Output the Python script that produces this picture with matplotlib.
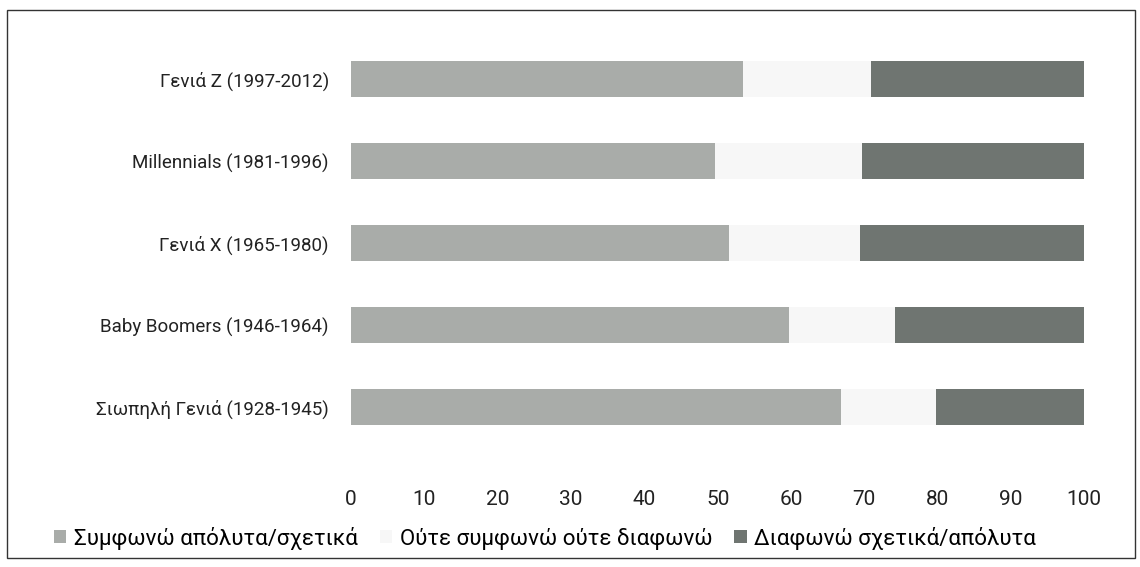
import matplotlib
matplotlib.use('Agg')
import matplotlib.pyplot as plt
from matplotlib.patches import Rectangle

# categories (top to bottom)
generations = ['Γενιά Z (1997-2012)', 'Millennials (1981-1996)', 'Γενιά X (1965-1980)',
               'Baby Boomers (1946-1964)', 'Σιωπηλή Γενιά (1928-1945)']
agree = [53.5, 49.7, 51.6, 59.8, 66.8]
neutral = [17.4, 20.0, 17.8, 14.4, 13.0]
disagree = [29.1, 30.3, 30.6, 25.8, 20.2]

series_names = ['Συμφωνώ απόλυτα/σχετικά', 'Ούτε συμφωνώ ούτε διαφωνώ', 'Διαφωνώ σχετικά/απόλυτα']
colors = ['#a9aca9', '#f7f7f7', '#6f7571']

plt.rcParams['font.family'] = ['Roboto', 'DejaVu Sans']

fig = plt.figure(figsize=(11.4, 5.67), dpi=100)
ax = fig.add_axes([0.308, 0.21, 0.643, 0.723])

ypos = list(range(len(generations)))[::-1]
left = [0] * len(generations)
for vals, name, col in zip([agree, neutral, disagree], series_names, colors):
    ax.barh(ypos, vals, left=left, height=0.43, color=col, label=name)
    left = [l + v for l, v in zip(left, vals)]

ax.set_xlim(0, 100)
ax.set_ylim(-0.5, 4.5)
ax.set_xticks(range(0, 101, 10))
ax.set_yticks(ypos)
ax.set_yticklabels(generations, fontsize=13.5)
ax.tick_params(axis='both', length=0, colors='#222222')
ax.tick_params(axis='x', pad=30, labelsize=15)
ax.tick_params(axis='y', pad=16)
for s in ax.spines.values():
    s.set_visible(False)

ax.legend(loc='center', bbox_to_anchor=(0.478, 0.051), bbox_transform=fig.transFigure,
          ncol=3, frameon=False, fontsize=16, handlelength=0.55, handleheight=0.55,
          handletextpad=0.35, columnspacing=1.0)

# frame round the figure
fig.patches.append(Rectangle((0.006, 0.016), 0.99, 0.966, transform=fig.transFigure,
                             fill=False, edgecolor='#333333', linewidth=1))

fig.savefig('out.png', dpi=100)
